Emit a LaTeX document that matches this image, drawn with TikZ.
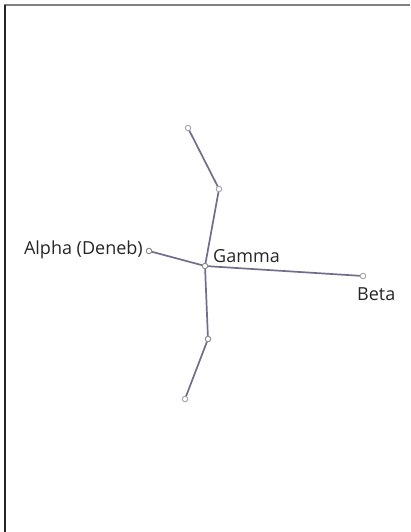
\documentclass[tikz,border=0pt]{standalone}
\usepackage{fontspec}
\setmainfont{Open Sans}
\usepackage{tikz}
\definecolor{starline}{RGB}{112,110,140}
\definecolor{starring}{RGB}{165,168,175}
\tikzset{
    star/.style={circle,draw=starring,fill=white,line width=1pt,inner sep=0pt,minimum size=5.5pt},
    label/.style={font=\fontsize{18}{20}\selectfont,text=black!85,inner sep=0pt}
}
\begin{document}
\begin{tikzpicture}[x=1pt,y=-1pt]
        \useasboundingbox (0,0) rectangle (410,532);
        % Draw frame
        \draw[line width=2pt,black!50] (4,5.5) -- (410,5.5);
        \draw[line width=2pt,black!85] (4.5,5) -- (4.5,532);

        % Draw stars
        \coordinate (top) at (188,128);
        \coordinate (upper) at (219,189);
        \coordinate (gamma) at (205,266);
        \coordinate (alpha) at (149,251);
        \coordinate (beta) at (363,276);
        \coordinate (lower) at (208,339);
        \coordinate (bottom) at (185,399);

        % Draw constellation lines
        \draw[line width=1.7pt,starline] (top) -- (upper) -- (gamma) -- (lower) -- (bottom);
        \draw[line width=1.7pt,starline] (alpha) -- (gamma) -- (beta);

        \node[star] (s1) at (top) {};
        \node[star] (s2) at (upper) {};
        \node[star,draw=black!45] (s3) at (gamma) {};
        \node[star,draw=black!45] (s4) at (alpha) {};
        \node[star] (s5) at (beta) {};
        \node[star,draw=black!45] (s6) at (lower) {};
        \node[star] (s7) at (bottom) {};

        % Draw names
        \node[label,anchor=east] (alphaname) at (143,250) {Alpha (Deneb)};
        \node[label,anchor=west] (gammaname) at (213,256) {Gamma};
        \node[label,anchor=west] (betaname) at (357,294) {Beta};
    \end{tikzpicture}
\end{document}
